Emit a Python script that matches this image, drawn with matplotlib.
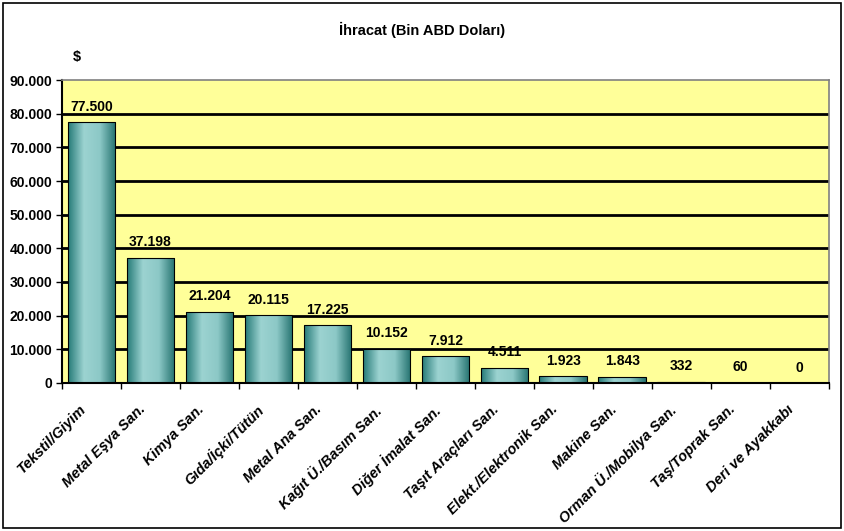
import numpy as np
import matplotlib.pyplot as plt
from matplotlib.colors import LinearSegmentedColormap

plt.rcParams['font.family'] = ['Liberation Sans', 'DejaVu Sans']

# data
categories = ['Tekstil/Giyim', 'Metal Eşya San.', 'Kimya San.', 'Gıda/İçki/Tütün',
              'Metal Ana San.', 'Kağıt Ü./Basım San.', 'Diğer İmalat San.',
              'Taşıt Araçları San.', 'Elekt./Elektronik San.', 'Makine San.',
              'Orman Ü./Mobilya San.', 'Taş/Toprak San.', 'Deri ve Ayakkabı']
values = [77500, 37198, 21204, 20115, 17225, 10152, 7912, 4511, 1923, 1843, 332, 60, 0]
yticks = [0, 10000, 20000, 30000, 40000, 50000, 60000, 70000, 80000, 90000]


def fmt(v):
    return f'{v:,}'.replace(',', '.')


fig = plt.figure(figsize=(8.44, 5.31), dpi=100)
ax = fig.add_axes([0.0735, 0.279, 0.9085, 0.570])
ax.set_facecolor('#FFFF99')

x = np.arange(len(categories))
bar_w = 0.81
bars = ax.bar(x, values, width=bar_w, color='none', edgecolor='black', linewidth=0.8, zorder=3)

# horizontal gradient for each bar (dark teal edges, light center)
cmap = LinearSegmentedColormap.from_list('teal', ['#257A77', '#9CD3D1', '#8CC8C6', '#24726F'])
grad = np.linspace(0, 1, 256).reshape(1, -1)
for b, v in zip(bars, values):
    if v <= 0:
        continue
    im = ax.imshow(grad, cmap=cmap, aspect='auto', zorder=2,
                   extent=[b.get_x(), b.get_x() + b.get_width(), 0, v])
    im.set_clip_path(b)

ax.set_xlim(-0.5, len(categories) - 0.5)
ax.set_ylim(0, 90000)
ax.set_yticks(yticks)
ax.set_yticklabels([fmt(t) for t in yticks], fontsize=10, fontweight='bold')
for t in yticks[1:-1]:
    ax.axhline(t, color='black', lw=2, zorder=1)

# tick marks between categories, labels at centres
ax.set_xticks(np.arange(len(categories) + 1) - 0.5)
ax.set_xticklabels([])
for xi, cat in zip(x, categories):
    ax.annotate(cat, (xi, 0), xycoords=('data', 'axes fraction'),
                xytext=(-9, -14), textcoords='offset points',
                rotation=45, ha='right', va='top', rotation_mode='anchor',
                fontsize=10.5, fontweight='bold', style='italic', annotation_clip=False)
ax.tick_params(axis='both', which='major', direction='out', length=4, width=1, color='black')
ax.tick_params(axis='y', pad=3)

for side in ['top', 'right']:
    ax.spines[side].set_color('#808080')
    ax.spines[side].set_linewidth(1.2)
for side in ['left', 'bottom']:
    ax.spines[side].set_color('black')
    ax.spines[side].set_linewidth(1.5)

for xi, v in zip(x, values):
    ax.annotate(fmt(v), (xi, v), xytext=(0, 6), textcoords='offset points',
                ha='center', va='bottom', fontsize=10, fontweight='bold', zorder=4)

fig.text(0.5, 0.944, 'İhracat (Bin ABD Doları)', ha='center', va='center',
         fontsize=10.5, fontweight='bold')
fig.text(0.091, 0.893, '$', ha='center', va='center', fontsize=10.5, fontweight='bold')

# outer chart border
fig.patches.append(plt.Rectangle((0.004, 0.006), 0.992, 0.988, transform=fig.transFigure,
                                 fill=False, edgecolor='black', linewidth=1.2))

fig.savefig('out.png', dpi=100)
